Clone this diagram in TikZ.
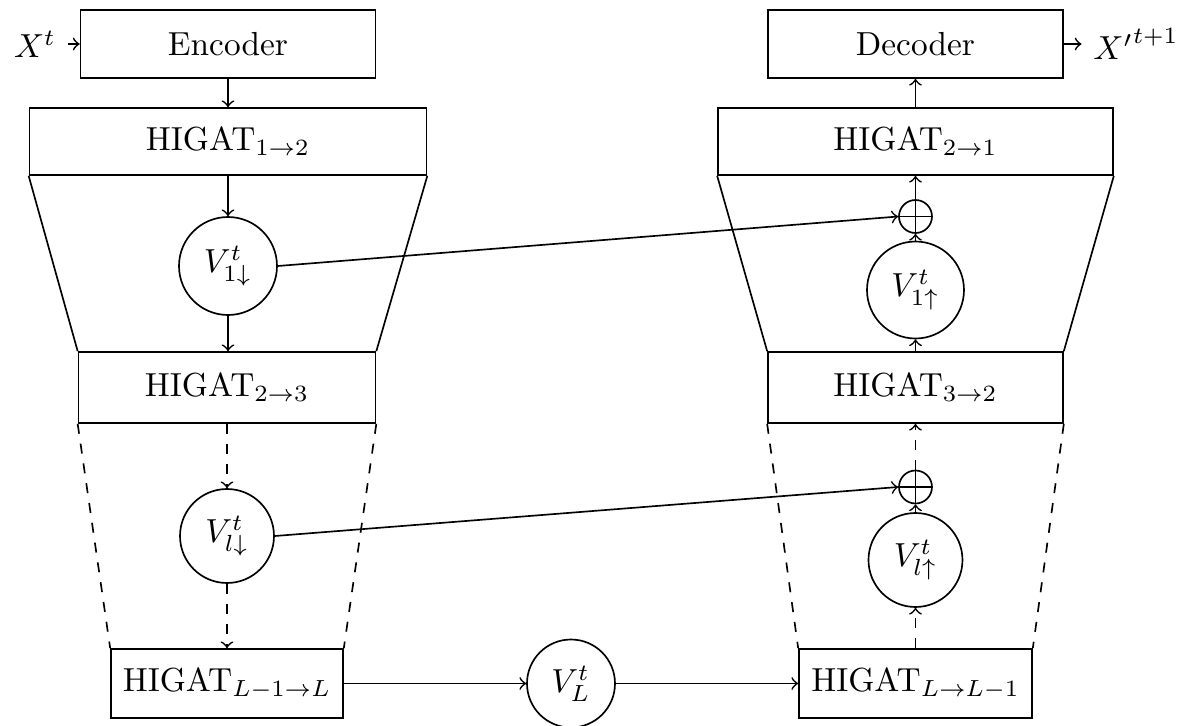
\documentclass[tikz,border=0pt]{standalone}
\begin{document}
\begin{tikzpicture}[x=0.3pt,y=-0.3pt,>=to, line width=0.5pt,
  box/.style={draw, inner sep=0pt},
  vn/.style={circle, draw, inner sep=0pt, minimum size=#1},
  opl/.style={circle, draw, inner sep=0pt, minimum size=9.9pt},
  conn/.style={->},
  dconn/.style={->, dashed}]
\useasboundingbox (0,0) rectangle (1194,726);
% boxes left
\node[box, minimum width=88.5pt, minimum height=20.4pt] (enc) at (228,44) {Encoder};
\node[box, minimum width=119.1pt, minimum height=20.1pt] (h12) at (228,141.5) {HIGAT$_{1\to2}$};
\node[box, minimum width=89.1pt, minimum height=21.3pt] (h23) at (227,387.5) {HIGAT$_{2\to3}$};
\node[box, minimum width=69.6pt, minimum height=20.7pt] (hL1) at (227,683.5) {HIGAT$_{L-1\to L}$};
% boxes right
\node[box, minimum width=88.5pt, minimum height=20.4pt] (dec) at (915.5,44) {Decoder};
\node[box, minimum width=118.5pt, minimum height=20.1pt] (h21) at (915.5,141.5) {HIGAT$_{2\to1}$};
\node[box, minimum width=88.5pt, minimum height=21.3pt] (h32) at (915.5,387.5) {HIGAT$_{3\to2}$};
\node[box, minimum width=69.9pt, minimum height=20.7pt] (hLL) at (915.5,683.5) {HIGAT$_{L\to L-1}$};
% circles
\node[vn=29.4pt] (v1d) at (228,266) {$V^t_{1\downarrow}$};
\node[vn=28.2pt] (vld) at (227,536) {$V^t_{l\downarrow}$};
\node[vn=26.4pt] (vL) at (571,683.5) {$V^t_L$};
\node[vn=29.1pt] (v1u) at (915.5,290) {$V^t_{1\uparrow}$};
\node[vn=28.2pt] (vlu) at (915.5,560) {$V^t_{l\uparrow}$};
\node[opl] (op1) at (915.5,216.5) {};
\node[opl] (op2) at (915.5,487) {};
\draw (op1.north) -- (op1.south) (op1.west) -- (op1.east);
\draw (op2.north) -- (op2.south) (op2.west) -- (op2.east);
% io labels
\node (xin) at (35,44) {$X^t$};
\node (xout) at (1136,44) {${X'}^{t+1}$};
% trapezoids
\draw (h12.south west) -- (h23.north west) (h12.south east) -- (h23.north east);
\draw (h21.south west) -- (h32.north west) (h21.south east) -- (h32.north east);
\draw[dashed] (h23.south west) -- (hL1.north west) (h23.south east) -- (hL1.north east);
\draw[dashed] (h32.south west) -- (hLL.north west) (h32.south east) -- (hLL.north east);
% connectors
\draw[conn] (xin) -- (enc);
\draw[conn] (dec) -- (xout);
\draw[conn] (enc) -- (h12);
\draw[conn] (h12) -- (v1d);
\draw[conn] (v1d) -- (h23.north -| v1d);
\draw[dconn] (h23) -- (vld);
\draw[dconn] (vld) -- (hL1);
\draw[conn] (hL1) -- (vL);
\draw[conn] (vL) -- (hLL);
\draw[dconn] (hLL) -- (vlu);
\draw[conn] (vlu) -- (op2);
\draw[dconn] (op2) -- (h32);
\draw[conn] (h32) -- (v1u);
\draw[conn] (v1u) -- (op1);
\draw[conn] (op1) -- (h21);
\draw[conn] (h21) -- (dec);
\draw[conn] (v1d.east) -- (op1.west);
\draw[conn] (vld.east) -- (op2.west);
\end{tikzpicture}
\end{document}
